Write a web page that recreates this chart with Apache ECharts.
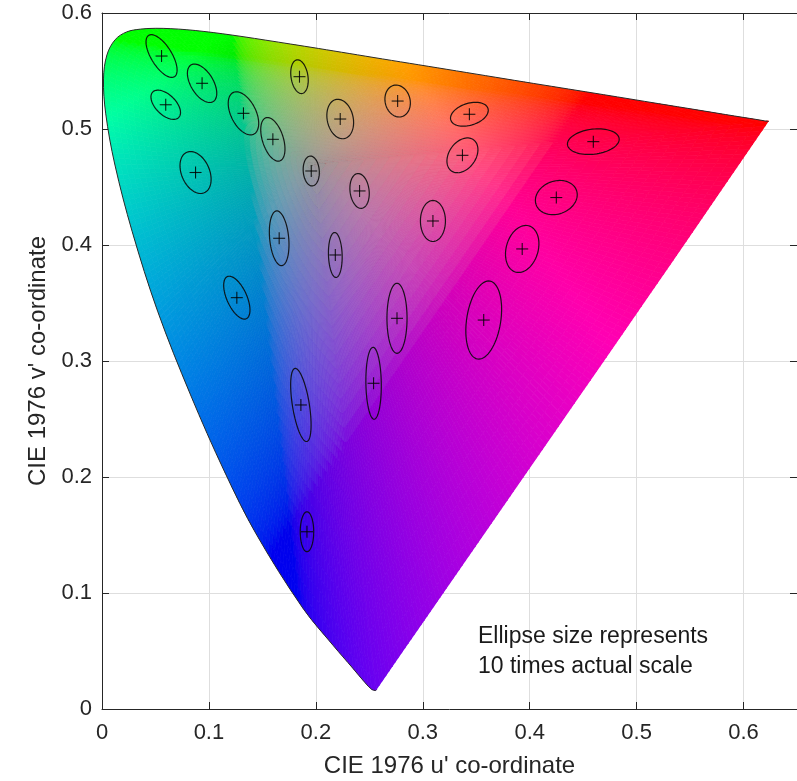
<!DOCTYPE html>
<html>
<head>
<meta charset="utf-8">
<title>MacAdam ellipses in CIE 1976 u'v'</title>
<script src="https://cdn.jsdelivr.net/npm/echarts@6/dist/echarts.min.js"></script>
<style>
html, body { margin: 0; padding: 0; background: #fff; }
#chart { width: 797px; height: 781px; }
</style>
</head>
<body>
<div id="chart"></div>
<script>
// spectral locus 380..700 nm, CIE 1976 u'v'
var locusU = [0.2568, 0.2557, 0.2522, 0.2461, 0.2347, 0.2161, 0.1877, 0.1441, 0.1147, 0.0828,
              0.0521, 0.0282, 0.0119, 0.0035, 0.0014, 0.0046, 0.0123, 0.0231, 0.0360, 0.0501,
              0.0643, 0.0792, 0.0953, 0.1127, 0.1319, 0.1531, 0.1766, 0.2026, 0.2312, 0.2623,
              0.2960, 0.3315, 0.3681, 0.4035, 0.4692, 0.5203, 0.5565, 0.5830, 0.6005, 0.6109,
              0.6199, 0.6234];
var locusV = [0.0166, 0.0159, 0.0169, 0.0226, 0.0350, 0.0549, 0.0871, 0.1510, 0.2044, 0.2708,
              0.3427, 0.4117, 0.4698, 0.5131, 0.5432, 0.5638, 0.5770, 0.5837, 0.5861, 0.5868,
              0.5865, 0.5856, 0.5841, 0.5821, 0.5796, 0.5766, 0.5732, 0.5694, 0.5651, 0.5604,
              0.5554, 0.5501, 0.5446, 0.5393, 0.5296, 0.5219, 0.5165, 0.5125, 0.5099, 0.5084,
              0.5070, 0.5065];

// MacAdam ellipses, drawn at 10x: centre, semi-axes, angle of major axis (deg)
var ellU = [0.0557, 0.0936, 0.0596, 0.1323, 0.1847, 0.1598, 0.2765, 0.2228, 0.3436, 0.4595,
            0.0875, 0.1957, 0.2409, 0.3371, 0.3095, 0.4249, 0.1657, 0.2182, 0.3930, 0.1261,
            0.2759, 0.3570, 0.2540, 0.1860, 0.1917];
var ellV = [0.5629, 0.5394, 0.5209, 0.5135, 0.5451, 0.4911, 0.5241, 0.5086, 0.5127, 0.4891,
            0.4625, 0.4638, 0.4466, 0.4773, 0.4207, 0.4409, 0.4058, 0.3914, 0.3966, 0.3546,
            0.3368, 0.3353, 0.2808, 0.2621, 0.1528];
var ellA = [0.0215, 0.0189, 0.0164, 0.0204, 0.0147, 0.0197, 0.0140, 0.0173, 0.0181, 0.0243,
            0.0193, 0.0129, 0.0151, 0.0170, 0.0177, 0.0199, 0.0237, 0.0194, 0.0209, 0.0202,
            0.0302, 0.0341, 0.0310, 0.0320, 0.0172];
var ellB = [0.0094, 0.0103, 0.0090, 0.0115, 0.0079, 0.0097, 0.0116, 0.0121, 0.0095, 0.0108,
            0.0129, 0.0075, 0.0089, 0.0121, 0.0117, 0.0143, 0.0089, 0.0064, 0.0148, 0.0092,
            0.0094, 0.0159, 0.0072, 0.0079, 0.0063];
var ellAngle = [-55, -55, -40, -60, -80, -70, -70, -75, 15, 6,
                -62, -85, -82, 48, 90, 15, -84, -88, 70, -63,
                90, 80, -89, -80, 90];

var FONT = 'Liberation Sans, Arial, sans-serif';
var TXT = '#262626';
var WHITE = [0.1978, 0.4683];
var SMOOTH = 0.35;

function gam(c) {
    c = c <= 0.0031308 ? 12.92 * c : 1.055 * Math.pow(c, 1 / 2.4) - 0.055;
    return Math.round(Math.min(1, Math.max(0, c)) * 255);
}

// colour of a chromaticity point: XYZ = (x, y, z), clipped, scaled down if out of range
function uvColor(u, v) {
    var d = 6 * u - 16 * v + 12;
    var X = 9 * u / d, Y = 4 * v / d, Z = 1 - X - Y;
    var r = 3.2406 * X - 1.5372 * Y - 0.4986 * Z;
    var g = -0.9689 * X + 1.8758 * Y + 0.0415 * Z;
    var b = 0.0557 * X - 0.2040 * Y + 1.0570 * Z;
    r = Math.max(r, 0); g = Math.max(g, 0); b = Math.max(b, 0);
    var m = Math.max(r, g, b);
    if (m > 1) { r /= m; g /= m; b /= m; }
    return 'rgb(' + gam(r) + ',' + gam(g) + ',' + gam(b) + ')';
}

// boundary segments (locus + purple line back to start)
var segData = [];
for (var i = 0; i < locusU.length; i++) {
    var j = (i + 1) % locusU.length;
    segData.push([locusU[i], locusV[i], locusU[j], locusV[j]]);
}
var ellData = ellU.map(function (u, i) { return [u, ellV[i], ellA[i], ellB[i], ellAngle[i]]; });

function locusPixels(api) {
    return locusU.map(function (u, i) { return api.coord([u, locusV[i]]); });
}

function renderFill(params, api) {
    var u0 = api.value(0), v0 = api.value(1), u1 = api.value(2), v1 = api.value(3);
    var len = Math.sqrt((u1 - u0) * (u1 - u0) + (v1 - v0) * (v1 - v0));
    var na = Math.max(1, Math.ceil(len / 0.005));
    var nr = 36;
    var wu = WHITE[0], wv = WHITE[1];
    var kids = [];
    function pt(pu, pv, t) { return api.coord([wu + t * (pu - wu), wv + t * (pv - wv)]); }
    for (var a = 0; a < na; a++) {
        var au = u0 + (u1 - u0) * a / na, av = v0 + (v1 - v0) * a / na;
        var bu = u0 + (u1 - u0) * (a + 1) / na, bv = v0 + (v1 - v0) * (a + 1) / na;
        var mu = (au + bu) / 2, mv = (av + bv) / 2;
        for (var k = 0; k < nr; k++) {
            var t0 = k / nr, t1 = (k + 1) / nr, tm = (t0 + t1) / 2;
            if (k === nr - 1) t1 = 1.06;   // overshoot, trimmed by the clip path
            var c = uvColor(wu + tm * (mu - wu), wv + tm * (mv - wv));
            kids.push({
                type: 'polygon',
                shape: { points: [pt(au, av, t0), pt(bu, bv, t0), pt(bu, bv, t1), pt(au, av, t1)] },
                style: { fill: c, stroke: c, lineWidth: 0.8 }
            });
        }
    }
    return {
        type: 'group',
        children: kids,
        clipPath: { type: 'polygon', shape: { points: locusPixels(api), smooth: SMOOTH } }
    };
}

function renderOutline(params, api) {
    return {
        type: 'polyline',
        shape: { points: locusPixels(api), smooth: SMOOTH },
        style: { fill: 'none', stroke: '#2a2a2a', lineWidth: 1 }
    };
}

function renderEllipse(params, api) {
    var cu = api.value(0), cv = api.value(1), a = api.value(2), b = api.value(3);
    var ang = api.value(4) * Math.PI / 180;
    var pts = [];
    for (var s = 0; s < 72; s++) {
        var T = s / 72 * Math.PI * 2;
        pts.push(api.coord([
            cu + a * Math.cos(ang) * Math.cos(T) - b * Math.sin(ang) * Math.sin(T),
            cv + a * Math.sin(ang) * Math.cos(T) + b * Math.cos(ang) * Math.sin(T)
        ]));
    }
    var c = api.coord([cu, cv]);
    var h = 6;
    return {
        type: 'group',
        children: [
            { type: 'polygon', shape: { points: pts }, style: { fill: 'none', stroke: 'rgba(10,10,10,0.9)', lineWidth: 1.2 } },
            { type: 'line', shape: { x1: c[0] - h, y1: c[1], x2: c[0] + h, y2: c[1] }, style: { stroke: 'rgba(0,0,0,0.85)', lineWidth: 1.1 } },
            { type: 'line', shape: { x1: c[0], y1: c[1] - h, x2: c[0], y2: c[1] + h }, style: { stroke: 'rgba(0,0,0,0.85)', lineWidth: 1.1 } }
        ]
    };
}

var axisLineStyle = { color: TXT, width: 1 };
var chart = echarts.init(document.getElementById('chart'), null, { renderer: 'canvas' });
chart.setOption({
    animation: false,
    grid: { left: 102, right: 0, top: 13, bottom: 72, containLabel: false, outerBoundsMode: 'none' },
    xAxis: [
        {
            type: 'value', min: 0, max: 0.65, interval: 0.1, position: 'bottom',
            name: "CIE 1976 u' co-ordinate", nameLocation: 'middle', nameGap: 45,
            nameTextStyle: { fontSize: 24, color: TXT, fontFamily: FONT },
            axisLine: { show: true, onZero: false, lineStyle: axisLineStyle },
            axisTick: { show: true, inside: true, length: 7, lineStyle: axisLineStyle },
            axisLabel: {
                fontSize: 22, color: TXT, fontFamily: FONT, margin: 13,
                formatter: function (v) { return Math.abs(v * 10 - Math.round(v * 10)) < 1e-6 ? String(Math.round(v * 10) / 10) : ''; }
            },
            splitLine: { show: true, lineStyle: { color: '#dedede', width: 1 } }
        },
        {
            type: 'value', min: 0, max: 0.65, interval: 0.1, position: 'top',
            axisLine: { show: true, onZero: false, lineStyle: axisLineStyle },
            axisTick: { show: true, inside: true, length: 7, lineStyle: axisLineStyle },
            axisLabel: { show: false },
            splitLine: { show: false }
        }
    ],
    yAxis: [
        {
            type: 'value', min: 0, max: 0.6, interval: 0.1, position: 'left',
            name: "CIE 1976 v' co-ordinate", nameLocation: 'middle', nameGap: 52,
            nameTextStyle: { fontSize: 24, color: TXT, fontFamily: FONT },
            axisLine: { show: true, onZero: false, lineStyle: axisLineStyle },
            axisTick: { show: true, inside: true, length: 7, lineStyle: axisLineStyle },
            axisLabel: { fontSize: 22, color: TXT, fontFamily: FONT, margin: 10 },
            splitLine: { show: true, lineStyle: { color: '#dedede', width: 1 } }
        },
        {
            type: 'value', min: 0, max: 0.6, interval: 0.1, position: 'right',
            axisLine: { show: false, onZero: false, lineStyle: axisLineStyle },
            axisTick: { show: true, inside: true, length: 7, lineStyle: axisLineStyle },
            axisLabel: { show: false },
            splitLine: { show: false }
        }
    ],
    graphic: [{
        type: 'text', left: 478, top: 622, z: 10,
        style: {
            text: 'Ellipse size represents\n10 times actual scale',
            fontSize: 23, lineHeight: 30, fontFamily: FONT, fill: '#1a1a1a'
        }
    }],
    series: [
        {
            type: 'custom', name: 'gamut', renderItem: renderFill, data: segData,
            encode: { x: [0, 2], y: [1, 3] }, silent: true, z: 1
        },
        {
            type: 'custom', name: 'locus', renderItem: renderOutline, data: [[locusU[0], locusV[0]]],
            encode: { x: 0, y: 1 }, silent: true, z: 3
        },
        {
            type: 'custom', name: 'MacAdam', renderItem: renderEllipse, data: ellData,
            encode: { x: 0, y: 1 }, silent: true, z: 4
        }
    ]
});
</script>
</body>
</html>
